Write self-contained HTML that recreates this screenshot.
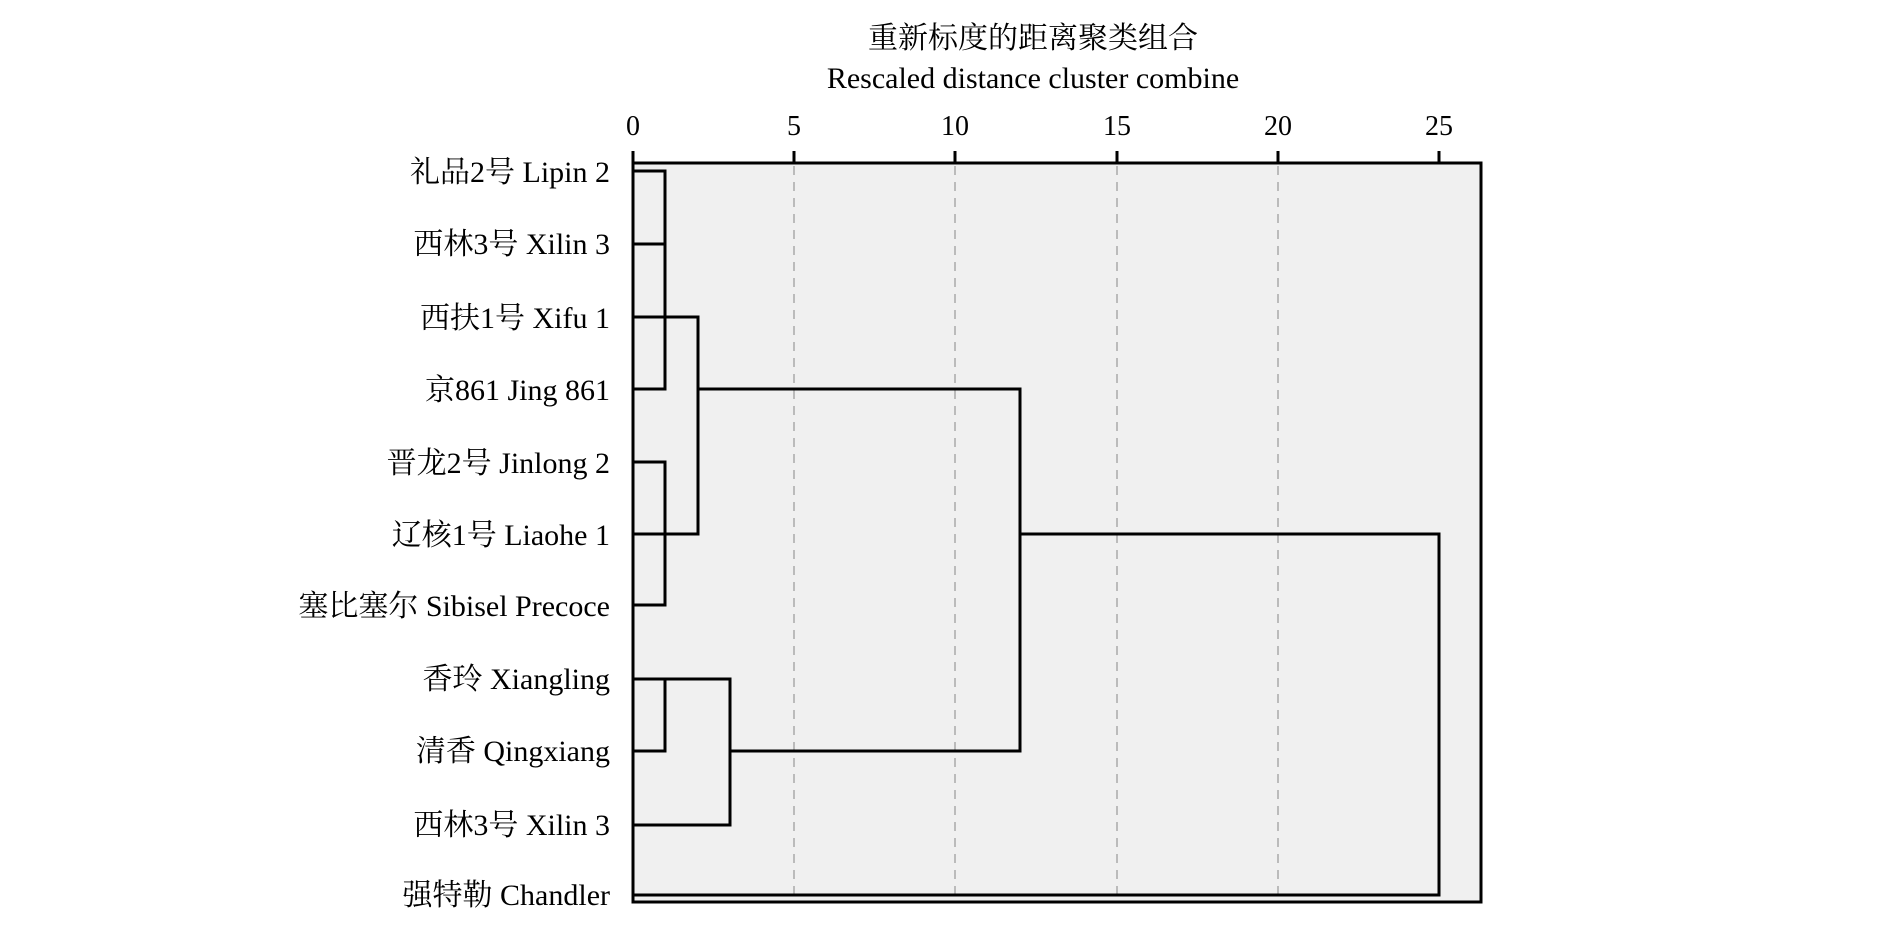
<!DOCTYPE html>
<html><head><meta charset="utf-8"><style>
html,body{margin:0;padding:0;background:#fff;}
svg{display:block;}
text{font-family:"Liberation Serif","Noto Serif CJK SC","Noto Sans CJK SC",serif;fill:#000;}
</style></head><body>
<svg width="1890" height="933" viewBox="0 0 1890 933" xmlns="http://www.w3.org/2000/svg">
<text x="1033" y="48" font-size="30" text-anchor="middle">重新标度的距离聚类组合</text>
<text x="1033" y="88" font-size="30" text-anchor="middle">Rescaled distance cluster combine</text>
<rect x="633" y="163" width="848" height="739" fill="#f0f0f0" stroke="#000" stroke-width="3"/>
<g stroke="#bbb" stroke-width="2" stroke-dasharray="9,7">
<line x1="794" y1="166" x2="794" y2="900"/>
<line x1="955" y1="166" x2="955" y2="900"/>
<line x1="1117" y1="166" x2="1117" y2="900"/>
<line x1="1278" y1="166" x2="1278" y2="900"/>
</g>
<g stroke="#000" stroke-width="3">
<line x1="633" y1="151" x2="633" y2="163"/>
<line x1="794" y1="151" x2="794" y2="163"/>
<line x1="955" y1="151" x2="955" y2="163"/>
<line x1="1117" y1="151" x2="1117" y2="163"/>
<line x1="1278" y1="151" x2="1278" y2="163"/>
<line x1="1439" y1="151" x2="1439" y2="163"/>
</g>
<g font-size="28" text-anchor="middle">
<text x="633" y="135">0</text><text x="794" y="135">5</text><text x="955" y="135">10</text>
<text x="1117" y="135">15</text><text x="1278" y="135">20</text><text x="1439" y="135">25</text>
</g>
<g fill="none" stroke="#000" stroke-width="3">
<polyline points="633,171 665,171 665,389 633,389"/>
<line x1="633" y1="244" x2="665" y2="244"/>
<line x1="633" y1="317" x2="665" y2="317"/>
<polyline points="633,462 665,462 665,605 633,605"/>
<line x1="633" y1="534" x2="665" y2="534"/>
<polyline points="665,317 698,317 698,534 665,534"/>
<polyline points="698,389 1020,389 1020,751 730,751"/>
<polyline points="633,679 665,679 665,751 633,751"/>
<polyline points="665,679 730,679 730,825 633,825"/>
<polyline points="1020,534 1439,534 1439,895 633,895"/>
</g>
<g font-size="30" text-anchor="end">
<text x="610" y="182">礼品2号 Lipin 2</text>
<text x="610" y="254">西林3号 Xilin 3</text>
<text x="610" y="328">西扶1号 Xifu 1</text>
<text x="610" y="400">京861 Jing 861</text>
<text x="610" y="473">晋龙2号 Jinlong 2</text>
<text x="610" y="545">辽核1号 Liaohe 1</text>
<text x="610" y="616">塞比塞尔 Sibisel Precoce</text>
<text x="610" y="689">香玲 Xiangling</text>
<text x="610" y="761">清香 Qingxiang</text>
<text x="610" y="835">西林3号 Xilin 3</text>
<text x="610" y="905">强特勒 Chandler</text>
</g>
</svg>
</body></html>
